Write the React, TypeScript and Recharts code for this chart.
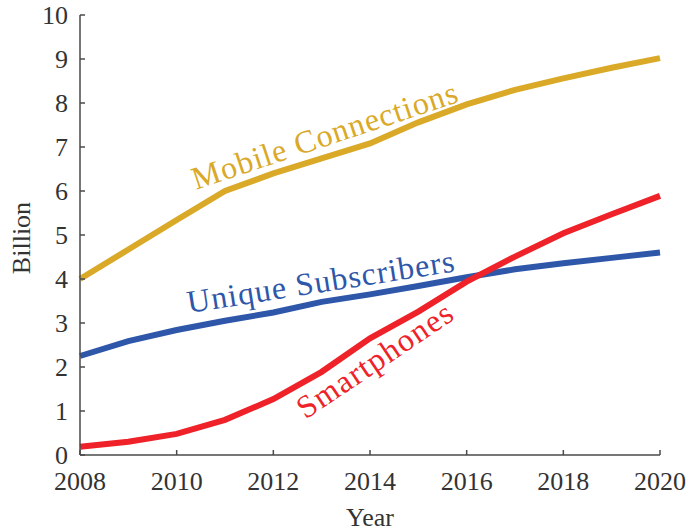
import { LineChart, Line, XAxis, YAxis, ReferenceDot, Label } from 'recharts'

const years = [2008, 2009, 2010, 2011, 2012, 2013, 2014, 2015, 2016, 2017, 2018, 2019, 2020]
const mobileConnections = [4.0, 4.67, 5.34, 6.0, 6.4, 6.74, 7.08, 7.56, 7.97, 8.3, 8.56, 8.8, 9.02]
const uniqueSubscribers = [2.25, 2.59, 2.84, 3.05, 3.24, 3.48, 3.65, 3.84, 4.04, 4.22, 4.36, 4.48, 4.6]
const smartphones = [0.19, 0.3, 0.48, 0.8, 1.27, 1.89, 2.65, 3.26, 3.94, 4.51, 5.04, 5.47, 5.89]

const xTicks = [2008, 2010, 2012, 2014, 2016, 2018, 2020]
const yTicks = [0, 1, 2, 3, 4, 5, 6, 7, 8, 9, 10]

const GOLD = '#D9A927'
const BLUE = '#2E57A9'
const RED = '#EE2228'
const FONT = '"Liberation Serif", "DejaVu Serif", serif'
const AXIS = '#4a4a4a'

const data = years.map((year, i) => ({
  year,
  mobile: mobileConnections[i],
  unique: uniqueSubscribers[i],
  smart: smartphones[i],
}))

// text written along each curve, anchored in data coordinates
const curveLabels = [
  { text: 'Mobile Connections', x: 2013.13, y: 7.03, angle: -18.5, length: 278, color: GOLD },
  { text: 'Unique Subscribers', x: 2013.01, y: 3.7, angle: -8.9, length: 270, color: BLUE },
  { text: 'Smartphones', x: 2014.22, y: 1.95, angle: -34, length: 181, color: RED },
]

const tickStyle = { fontFamily: FONT, fontSize: 26, fill: '#333' }

export default function App() {
  return (
    <div style={{ position: 'absolute', left: 0, top: 0, background: '#fff' }}>
      <LineChart
        width={688}
        height={532}
        data={data}
        margin={{ top: 15, right: 28, bottom: 0, left: 0 }}
      >
        <XAxis
          xAxisId="top"
          orientation="top"
          type="number"
          dataKey="year"
          domain={[2008, 2020]}
          ticks={xTicks}
          height={0}
          tickSize={-5}
          tickFormatter={() => ''}
          stroke={AXIS}
          strokeWidth={1.5}
        />
        <YAxis
          yAxisId="right"
          orientation="right"
          type="number"
          domain={[0, 10]}
          ticks={yTicks}
          width={0}
          tickSize={-5}
          tickFormatter={() => ''}
          stroke={AXIS}
          strokeWidth={1.5}
        />
        <XAxis
          type="number"
          dataKey="year"
          domain={[2008, 2020]}
          ticks={xTicks}
          height={77}
          tickSize={-5}
          tickMargin={22}
          tick={tickStyle}
          stroke={AXIS}
          strokeWidth={1.5}
        >
          <Label
            content={(props: any) => {
              const vb = props.viewBox
              return (
                <text x={vb.x + vb.width / 2} y={526} textAnchor="middle" fontFamily={FONT} fontSize={26} fill="#333">
                  Year
                </text>
              )
            }}
          />
        </XAxis>
        <YAxis
          type="number"
          domain={[0, 10]}
          ticks={yTicks}
          width={80}
          tickSize={-5}
          tickMargin={17}
          tick={tickStyle}
          stroke={AXIS}
          strokeWidth={1.5}
        >
          <Label
            content={(props: any) => {
              const vb = props.viewBox
              const cy = vb.y + vb.height / 2 + 3
              return (
                <text x={30} y={cy} transform={`rotate(-90, 30, ${cy})`} textAnchor="middle" fontFamily={FONT} fontSize={26} fill="#333">
                  Billion
                </text>
              )
            }}
          />
        </YAxis>
        <Line dataKey="mobile" stroke={GOLD} strokeWidth={6} dot={false} isAnimationActive={false} />
        <Line dataKey="unique" stroke={BLUE} strokeWidth={6} dot={false} isAnimationActive={false} />
        <Line dataKey="smart" stroke={RED} strokeWidth={6} dot={false} isAnimationActive={false} />
        {curveLabels.map((c) => (
          <ReferenceDot
            key={c.text}
            x={c.x}
            y={c.y}
            r={0}
            fill="none"
            stroke="none"
            label={(props: any) => {
              const vb = props.viewBox
              const cx = vb.x + (vb.width || 0) / 2
              const cy = vb.y + (vb.height || 0) / 2
              return (
                <text
                  x={cx}
                  y={cy}
                  transform={`rotate(${c.angle}, ${cx}, ${cy})`}
                  textAnchor="middle"
                  textLength={c.length}
                  lengthAdjust="spacing"
                  fontFamily={FONT}
                  fontSize={32}
                  fill={c.color}
                >
                  {c.text}
                </text>
              )
            }}
          />
        ))}
      </LineChart>
    </div>
  )
}
